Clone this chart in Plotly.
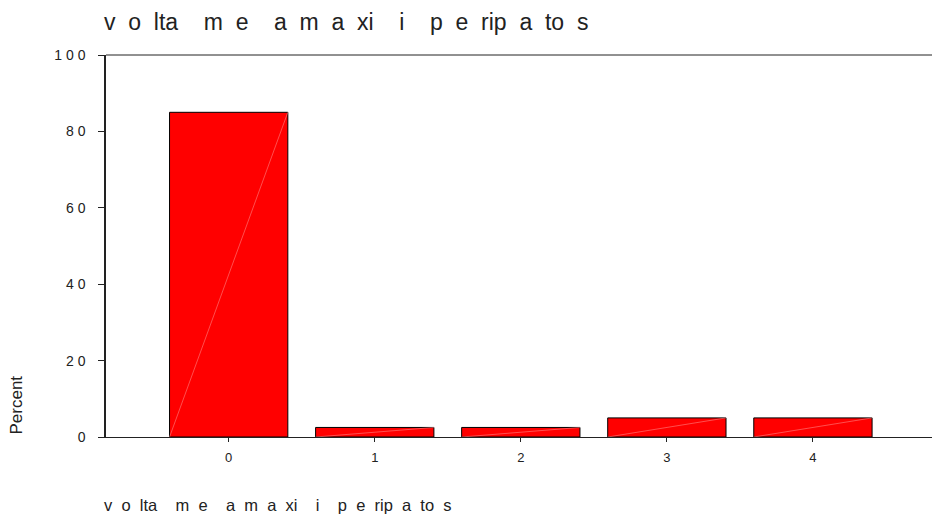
import plotly.graph_objects as go

categories = [0, 1, 2, 3, 4]
percent = [85.0, 2.5, 2.5, 5.0, 5.0]
y_ticks = [0, 20, 40, 60, 80, 100]
y_tick_labels = ["0", "2 0", "4 0", "6 0", "8 0", "1 0 0"]
var_label = "v  o  lta    m  e    a  m  a  xi    i    p  e  rip  a  to  s"
font = "Liberation Sans, Arial, sans-serif"
ink = "#222222"
bar_width = 0.81

# page body keeps an 8px margin, so the figure is 8px smaller and shifted
W, H, PAD = 940, 517, 8
L, T, B = 106, 55, 80          # plot area edges in page pixels
plot_w = W - L

fig = go.Figure()
fig.add_trace(go.Bar(
    x=categories, y=percent, width=bar_width,
    marker=dict(color="#ff0000", line=dict(color="#000000", width=1)),
    hoverinfo="x+y",
))

# faint diagonal inside each bar (old SPSS rendering artefact)
for c, p in zip(categories, percent):
    fig.add_trace(go.Scatter(
        x=[c - bar_width / 2, c + bar_width / 2], y=[0, p],
        mode="lines", line=dict(color="rgba(255,140,140,0.8)", width=0.7),
        hoverinfo="skip", showlegend=False,
    ))

fig.update_layout(
    width=W - PAD, height=H - PAD,
    margin=dict(l=L - PAD, r=0, t=T - PAD, b=B),
    paper_bgcolor="white", plot_bgcolor="white",
    showlegend=False,
    font=dict(family=font, color=ink),
    xaxis=dict(
        range=[-0.84, 4.87], tickvals=categories, ticktext=[str(c) for c in categories],
        showgrid=False, zeroline=False, showline=True, linecolor=ink, linewidth=1,
        ticks="outside", ticklen=4, tickcolor=ink, tickfont=dict(size=13),
        ticklabelstandoff=4,
    ),
    yaxis=dict(
        range=[0, 100], tickvals=y_ticks, ticktext=y_tick_labels,
        showgrid=False, zeroline=False, showline=True, linecolor=ink, linewidth=1.5,
        ticks="outside", ticklen=6, tickcolor=ink, tickfont=dict(size=14),
        ticklabelstandoff=10,
    ),
    shapes=[dict(type="line", xref="paper", yref="paper", x0=0, x1=1, y0=1, y1=1,
                 line=dict(color=ink, width=1))],
    annotations=[
        dict(text=var_label, xref="paper", yref="paper", x=-4 / plot_w, y=1, yshift=33,
             xanchor="left", yanchor="middle", showarrow=False,
             font=dict(size=23, color=ink)),
        dict(text=var_label, xref="paper", yref="paper", x=-4 / plot_w, y=0, yshift=-68,
             xanchor="left", yanchor="middle", showarrow=False,
             font=dict(size=16.5, color=ink)),
        dict(text="Percent", xref="paper", yref="paper", x=0, xshift=-90, y=0,
             xanchor="center", yanchor="bottom", textangle=-90, showarrow=False,
             font=dict(size=17, color=ink)),
    ],
)

fig.write_html("out.html")
